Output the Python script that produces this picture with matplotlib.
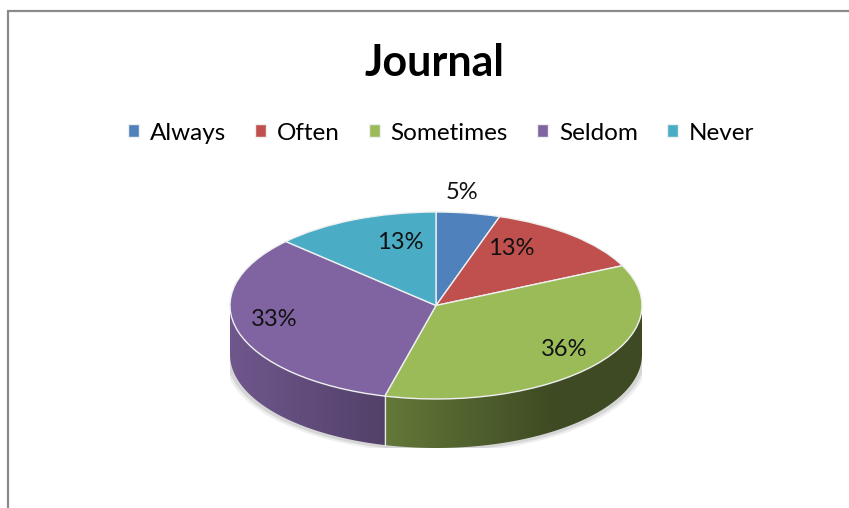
import numpy as np
import matplotlib.pyplot as plt
from matplotlib.patches import Polygon, Rectangle, Ellipse
from matplotlib.colors import to_rgb

# Data
answers = ["Always", "Often", "Sometimes", "Seldom", "Never"]
shares = [5, 13, 36, 33, 13]
colors = ["#4F81BD", "#C0504D", "#9BBB59", "#8064A2", "#4BACC6"]

W, H = 849, 508
plt.rcParams['font.family'] = ['Lato', 'DejaVu Sans']
fig = plt.figure(figsize=(W / 100, H / 100), dpi=100)

# chart frame (only left and top edges are visible in the crop)
fig.patches.append(Rectangle((8 / W, -0.1), 1.2, 1 - 11 / H + 0.1, transform=fig.transFigure,
                             fill=False, edgecolor='#8a8a8a', lw=1.6))

# pie axes: top ellipse spans x 230..642 px, y 212..399 px, side depth 49 px
ry_px = 93.5
depth = 49 / ry_px
ax = fig.add_axes([230 / W, 1 - (212 + 2 * ry_px + 49) / H, 412 / W, (2 * ry_px + 49) / H])

wedges, texts, autotexts = ax.pie(shares, colors=colors, startangle=90, counterclock=False,
                                  autopct='%1.0f%%', pctdistance=0.7,
                                  wedgeprops=dict(edgecolor='#eef0f0', linewidth=1.0),
                                  textprops=dict(fontsize=17, color='#111111'))
ax.set_aspect('auto')
ax.axis('off')

# side walls, shaded left to right
fracs = np.array(shares) / sum(shares)
edges = 90 - 360 * np.concatenate([[0], np.cumsum(fracs)])
xs = np.linspace(-1, 1, 400)
shade = np.clip(0.87 - 0.3 * (xs + 1), 0.4, 1)
for i, c in enumerate(colors):
    t = np.radians(np.linspace(edges[i + 1], edges[i], 300)) % (2 * np.pi)
    t = np.sort(t[np.sin(t) <= 0])
    if len(t) < 2:
        continue
    top = np.column_stack([np.cos(t), np.sin(t)])
    bot = np.column_stack([np.cos(t[::-1]), np.sin(t[::-1]) - depth])
    poly = Polygon(np.vstack([top, bot]), closed=True, facecolor='none', edgecolor='none')
    ax.add_patch(poly)
    img = np.array(to_rgb(c))[None, None, :] * shade[None, :, None]
    im = ax.imshow(img, extent=(-1, 1, -1 - depth, 1), aspect='auto', zorder=0.5,
                   interpolation='bilinear')
    im.set_clip_path(poly)

# light seams on the side where slices meet
for a in np.radians(edges):
    if np.sin(a) < 0:
        ax.plot([np.cos(a)] * 2, [np.sin(a), np.sin(a) - depth], color='#e8eaea', lw=0.9, zorder=0.6)

# soft shadow under the pie
for k, al in [(0.05, 0.12), (0.03, 0.2)]:
    ax.add_patch(Ellipse((0, -depth - k), 2 + k, 2, color='#777777', alpha=al, zorder=0.2, lw=0))
ax.set_xlim(-1, 1)
ax.set_ylim(-1 - depth, 1)

# label positions in pixels, as placed in the reference
label_px = [(462, 193), (511, 249), (564, 349), (274, 320), (400, 243)]
for txt, (px, py) in zip(autotexts, label_px):
    txt.set_position(((px - 436) / 206, 1 - (py - 212) / ry_px))
    txt.set_ha('center')
    txt.set_va('center')
    txt.set_clip_on(False)

fig.text(435 / W, 1 - 63 / H, "Journal", ha='center', va='center', fontsize=31, fontweight='bold')

fig.legend(wedges, answers, loc='center', bbox_to_anchor=(441 / W, 1 - 133 / H), ncol=5,
           frameon=False, fontsize=17.5, handlelength=0.45, handleheight=0.45,
           handletextpad=0.45, columnspacing=1.2)

fig.savefig("out.png", dpi=100)
